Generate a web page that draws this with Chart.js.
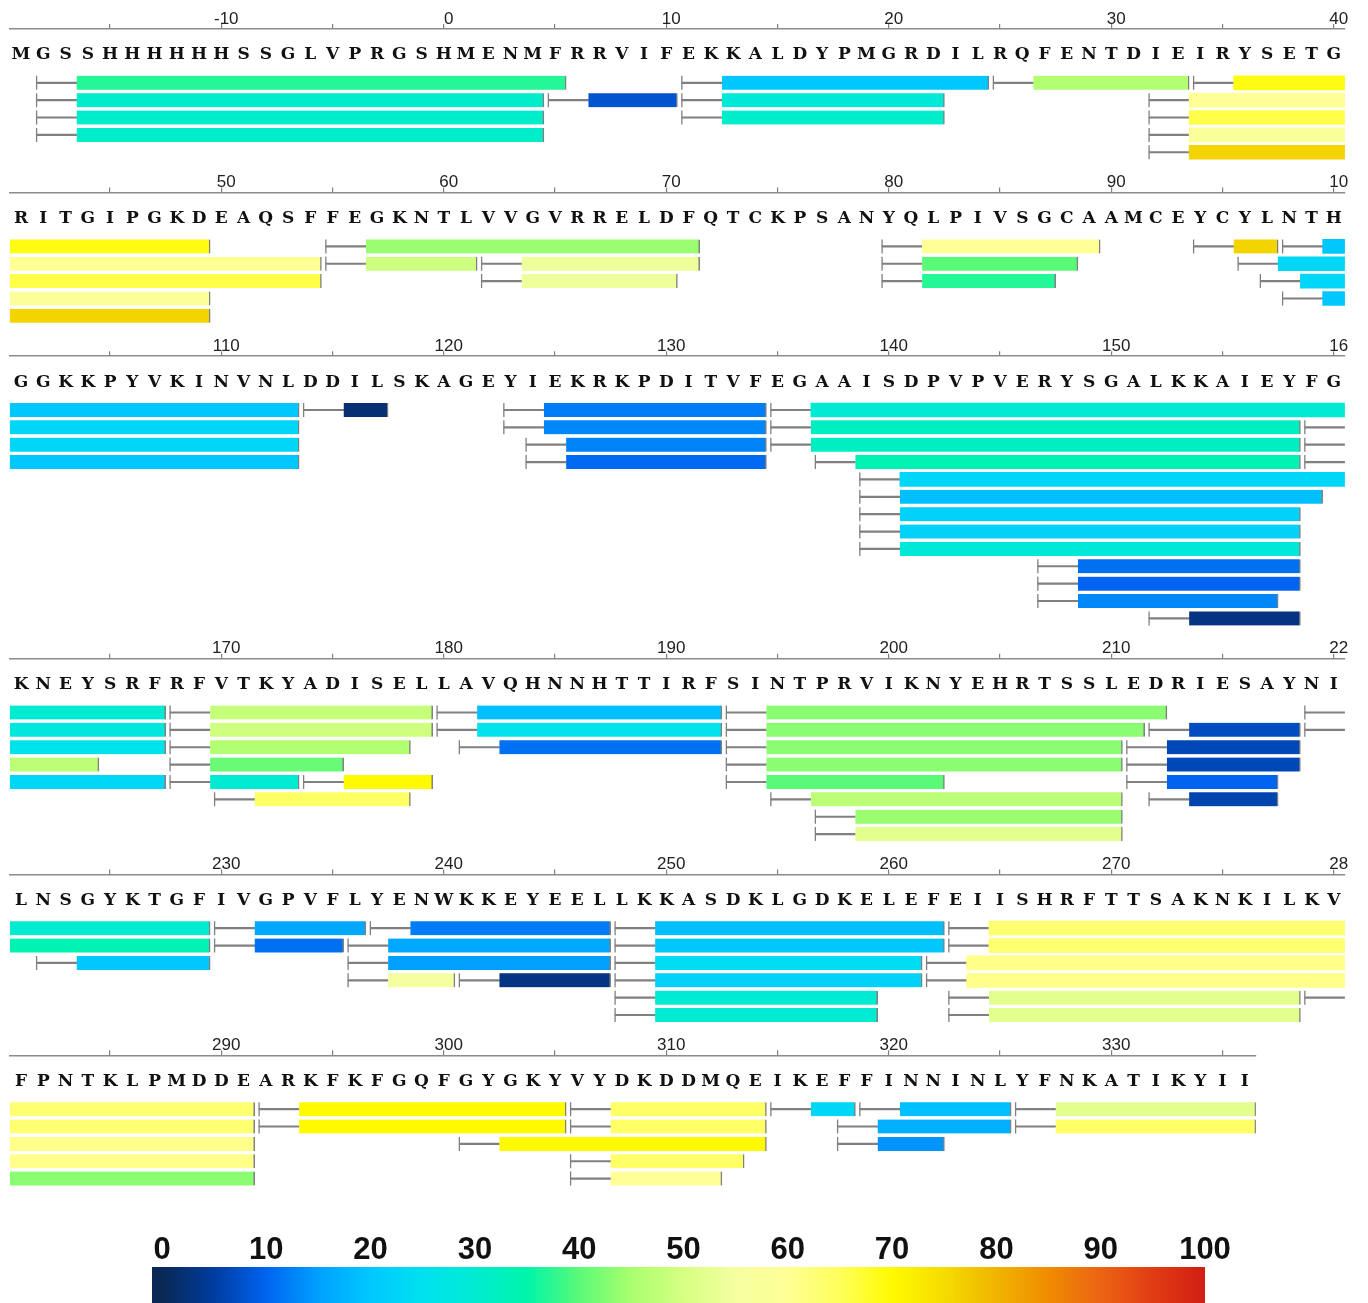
<!DOCTYPE html>
<html>
<head>
<meta charset="utf-8">
<title>Peptide coverage / deuterium uptake map</title>
<script src="https://cdn.jsdelivr.net/npm/chart.js@4.4.1/dist/chart.umd.min.js"></script>
<style>
    html, body { margin: 0; padding: 0; background: #fff; }
    #wrap { position: relative; width: 1368px; height: 1303px; overflow: hidden; }
    #wrap canvas { position: absolute; left: 0; }
</style>
</head>
<body>
<div id="wrap"></div>
<script>
// sequence, split into rows of 60 residues
const rowStarts = [-19, 41, 101, 161, 221, 281];
const rowLengths = [60, 60, 60, 60, 60, 56];
const rowLanes = [5, 5, 13, 8, 6, 5];
const sequence =
    "MGSSHHHHHHSSGLVPRGSHMENMFRRVIFEKKALDYPMGRDILRQFENTDIEIRYSETG" +
    "RITGIPGKDEAQSFFEGKNTLVVGVRRELDFQTCKPSANYQLPIVSGCAAMCEYCYLNTH" +
    "GGKKPYVKINVNLDDILSKAGEYIEKRKPDITVFEGAAISDPVPVERYSGALKKAIEYFG" +
    "KNEYSRFRFVTKYADISELLAVQHNNHTTIRFSINTPRVIKNYEHRTSSLEDRIESAYNI" +
    "LNSGYKTGFIVGPVFLYENWKKEYEELLKKASDKLGDKELEFEIISHRFTTSAKNKILKV" +
    "FPNTKLPMDDEARKFKFGQFGYGKYVYDKDDMQEIKEFFINNINLYFNKATIKYII";

// peptides: first / last residue, lane in the row, deuterium uptake (%)
const pepStart = [
    -18, -18, -18, -18, 5, 11, 11, 11, 25, 34, 32, 32, 32, 32,
    55, 55, 62, 62, 80, 80, 80, 94, 98, 96, 97, 98,
    114, 123, 123, 124, 124, 135, 135, 135, 137, 139, 139, 139, 139, 139, 147, 147, 147, 152,
    159, 159, 159, 168, 168, 168, 168, 168, 174, 170, 180, 180, 181, 193, 193, 193, 193, 193, 195, 197, 197, 212, 211, 211, 211, 212, 219, 219,
    222, 230, 230, 237, 236, 236, 236, 241, 248, 248, 248, 248, 248, 248, 263, 263, 262, 262, 263, 263, 279,
    292, 292, 306, 306, 301, 306, 306, 315, 319, 326, 318, 326, 318
];
const pepEnd = [
    5, 4, 4, 4, 10, 24, 22, 22, 33, 49, 54, 54, 49, 49,
    71, 61, 71, 70, 89, 88, 87, 97, 113, 113, 113, 113,
    117, 134, 134, 134, 134, 167, 158, 158, 158, 167, 159, 158, 158, 158, 158, 158, 157, 158,
    167, 167, 164, 179, 179, 178, 175, 173, 179, 178, 192, 192, 192, 212, 211, 210, 210, 202, 210, 210, 210, 218, 218, 218, 217, 217, 229, 229,
    229, 236, 235, 247, 247, 247, 240, 247, 262, 262, 261, 261, 259, 259, 291, 291, 291, 291, 278, 278, 291,
    305, 305, 314, 314, 314, 313, 312, 318, 325, 336, 325, 336, 322
];
const pepLane = [
    0, 1, 2, 3, 1, 0, 1, 2, 0, 0, 1, 2, 3, 4,
    0, 1, 1, 2, 0, 1, 2, 0, 0, 1, 2, 3,
    0, 0, 1, 2, 3, 0, 1, 2, 3, 4, 5, 6, 7, 8, 9, 10, 11, 12,
    1, 2, 3, 0, 1, 2, 3, 4, 4, 5, 0, 1, 2, 0, 1, 2, 3, 4, 5, 6, 7, 1, 2, 3, 4, 5, 0, 1,
    2, 0, 1, 0, 1, 2, 3, 3, 0, 1, 2, 3, 4, 5, 0, 1, 2, 3, 4, 5, 4,
    0, 1, 0, 1, 2, 3, 4, 0, 0, 0, 1, 1, 2
];
const pepUptake = [
    37, 31, 31, 31, 8, 20, 29, 31, 46, 69, 60, 66, 58, 76,
    44, 49, 54, 54, 60, 40, 37, 76, 20, 23, 23, 20,
    2, 12, 13, 12.5, 10.5, 30, 32, 32, 34, 23, 19, 22, 22, 29, 11, 10, 13, 3,
    28, 26, 47, 48, 49, 46, 41, 30, 70, 64, 19, 26, 11, 43, 43, 43, 43, 40, 47, 44, 52, 7, 6.5, 6.5, 10, 6, 30, 34,
    20, 16, 11, 12, 16, 15, 55, 3, 19, 20, 24, 22, 30, 30, 63, 63, 61, 61, 52, 52, 43,
    70, 70, 64, 64, 70, 64, 60, 23, 19, 52, 17, 64, 14
];

// colour scale
const scaleTicks = [0, 10, 20, 30, 40, 50, 60, 70, 80, 90, 100];
const scaleStops = [0, 5, 10, 15, 20, 25, 30, 35, 40, 45, 50, 55, 60, 65, 70, 75, 80, 85, 90, 95, 100];
const scaleColors = [
    "#0a2855", "#003ca0", "#0064f0", "#00a0ff", "#00c8ff", "#00e1f0", "#00ebd2",
    "#00f5aa", "#5afa78", "#aaff6e", "#d7ff82", "#f5ffa0", "#ffff96", "#ffff5a",
    "#fffa00", "#f5dc00", "#f0b400", "#f08c00", "#eb6414", "#e13c14", "#d21e14"
];

// layout (px)
const PAGE_W = 1368;
const LEFT = 9.9;
const PX_PER_RES = 22.25;
const PITCH = 17.37;
const AXIS_TOP = 29;
const SEQ_BAND = 36;
const FIRST_LANE = 53.8;
const ROW_GAP = 40.3;
const GREY = "#808080";

function hexRgb(h) {
    return [1, 3, 5].map(i => parseInt(h.substr(i, 2), 16));
}

function uptakeColor(u) {
    let i = 0;
    while (i < scaleStops.length - 2 && u > scaleStops[i + 1]) i++;
    const t = Math.max(0, Math.min(1, (u - scaleStops[i]) / (scaleStops[i + 1] - scaleStops[i])));
    const a = hexRgb(scaleColors[i]), b = hexRgb(scaleColors[i + 1]);
    const c = a.map((v, j) => Math.round(v + (b[j] - v) * t));
    return `rgb(${c[0]},${c[1]},${c[2]})`;
}

const wrap = document.getElementById("wrap");

function addCanvas(top, height) {
    const cv = document.createElement("canvas");
    cv.width = PAGE_W;
    cv.height = height;
    cv.style.top = top + "px";
    wrap.appendChild(cv);
    return cv;
}

let axisY = 29;
rowStarts.forEach((first, k) => {
    const n = rowLengths[k];
    const last = first + n - 1;
    const lanes = rowLanes[k];

    const top = Math.floor(axisY - AXIS_TOP);
    const labelBand = axisY - top;
    const yMin = -(FIRST_LANE - SEQ_BAND) / PITCH;
    const yMax = lanes - 1 + 0.6;
    const area = (yMax - yMin) * PITCH;
    const height = Math.ceil(labelBand + SEQ_BAND + area);
    const cv = addCanvas(top, height);

    // split each peptide into start mark, unlabelled N-term link and coloured part
    const bars = [], links = [], marks = [];
    pepStart.forEach((s, i) => {
        const e = pepEnd[i];
        if (e < first || s - 1 > last) return;
        if (s + 1 < last) {
            bars.push({ x: [s + 1.5, e + 0.5], y: pepLane[i], u: pepUptake[i], open: e > last });
        }
        links.push({ x: [s - 0.3, s + 1.5], y: pepLane[i] });
        marks.push({ x: s - 0.3, y: pepLane[i] });
    });

    new Chart(cv, {
        type: "bar",
        data: {
            datasets: [
                {
                    label: "uptake",
                    indexAxis: "y",
                    data: bars,
                    xAxisID: "x", yAxisID: "y",
                    backgroundColor: bars.map(b => uptakeColor(b.u)),
                    borderColor: GREY,
                    borderWidth: bars.map(b => ({ left: 0, top: 0, bottom: 0, right: b.open ? 0 : 1.5 })),
                    borderSkipped: false,
                    barThickness: 14,
                    grouped: false,
                    clip: 0
                },
                {
                    label: "n-term",
                    indexAxis: "y",
                    data: links,
                    xAxisID: "x", yAxisID: "y",
                    backgroundColor: GREY,
                    barThickness: 1.5,
                    grouped: false,
                    clip: 0
                },
                {
                    type: "scatter",
                    label: "start",
                    data: marks,
                    xAxisID: "x", yAxisID: "y",
                    pointStyle: "line",
                    pointRotation: 90,
                    pointRadius: 7,
                    pointBorderColor: GREY,
                    pointBorderWidth: 1.3,
                    clip: 0
                }
            ]
        },
        options: {
            responsive: false,
            animation: false,
            devicePixelRatio: 1,
            layout: {
                autoPadding: false,
                padding: { left: LEFT, right: PAGE_W - (LEFT + n * PX_PER_RES), top: 0, bottom: height - (labelBand + SEQ_BAND + area) }
            },
            plugins: { legend: { display: false }, tooltip: { enabled: false } },
            scales: {
                x: {
                    type: "linear",
                    position: "top",
                    weight: 1,
                    offset: false,
                    bounds: "data",
                    min: first - 0.5,
                    max: last + 0.5,
                    grid: { drawOnChartArea: false, offset: false, tickLength: 5, color: GREY, lineWidth: 1.2 },
                    border: { color: "#8c8c8c", width: 1.6 },
                    ticks: {
                        font: { family: "Liberation Sans", size: 17, lineHeight: 38 / 17 },
                        color: "#222",
                        padding: labelBand - 43,
                        labelOffset: 5,
                        maxRotation: 0,
                        autoSkip: false,
                        callback: (v) => {
                            if (v % 10 !== 0) return "";
                            const s = String(v);
                            return (v === last && s.length > 2) ? s.slice(0, 2) : s;
                        }
                    },
                    afterBuildTicks: (axis) => {
                        const t = [];
                        for (let v = Math.ceil(axis.min / 5) * 5; v <= axis.max; v += 5) t.push({ value: v });
                        axis.ticks = t;
                    },
                    afterFit: (axis) => { axis.height = labelBand; axis.paddingLeft = 0; axis.paddingRight = 0; }
                },
                seq: {
                    type: "category",
                    axis: "x",
                    position: "top",
                    weight: 0,
                    labels: sequence.slice(k * 60, k * 60 + n).split(""),
                    offset: true,
                    grid: { display: false, drawTicks: false, tickLength: 0 },
                    border: { display: false },
                    ticks: {
                        font: { family: "DejaVu Serif", size: 17, weight: "bold", lineHeight: 46 / 17 },
                        color: "#111",
                        padding: -13,
                        maxRotation: 0,
                        autoSkip: false
                    },
                    afterFit: (axis) => { axis.height = SEQ_BAND; axis.paddingLeft = 0; axis.paddingRight = 0; }
                },
                y: {
                    type: "linear",
                    display: false,
                    reverse: true,
                    offset: false,
                    bounds: "data",
                    min: yMin,
                    max: yMax,
                    afterBuildTicks: (axis) => { axis.min = yMin; axis.max = yMax; }
                }
            }
        }
    });

    axisY += FIRST_LANE + (lanes - 1) * PITCH + ROW_GAP;
});

// colour bar
const cbTop = 1220, cbBarTop = 1267, cbLeft = 152, cbZero = 162, cbRight = 1205;
const cbCanvas = addCanvas(cbTop, 1303 - cbTop);
const cbMin = -(cbZero - cbLeft) / ((cbRight - cbZero) / 100);

new Chart(cbCanvas, {
    type: "bar",
    data: {
        labels: ["uptake"],
        datasets: [{
            indexAxis: "y",
            data: [[cbMin, 100]],
            backgroundColor: (ctx) => {
                const chart = ctx.chart;
                const xs = chart.scales.x;
                if (!chart.chartArea || !xs) return scaleColors[0];
                const g = chart.ctx.createLinearGradient(xs.getPixelForValue(0), 0, xs.getPixelForValue(100), 0);
                scaleStops.forEach((v, i) => g.addColorStop(v / 100, scaleColors[i]));
                return g;
            },
            barPercentage: 1,
            categoryPercentage: 1
        }]
    },
    options: {
        responsive: false,
        animation: false,
        devicePixelRatio: 1,
        layout: { autoPadding: false, padding: { left: cbLeft, right: PAGE_W - cbRight, top: 0, bottom: 0 } },
        plugins: { legend: { display: false }, tooltip: { enabled: false } },
        scales: {
            x: {
                type: "linear",
                position: "top",
                offset: false,
                bounds: "data",
                min: cbMin,
                max: 100,
                grid: { display: false, drawTicks: false, tickLength: 0, offset: false },
                border: { display: false },
                ticks: {
                    font: { family: "Liberation Sans", size: 31, weight: "bold", lineHeight: 60 / 31 },
                    color: "#111",
                    padding: -13,
                    maxRotation: 0,
                    autoSkip: false
                },
                afterBuildTicks: (axis) => {
                    axis.min = cbMin; axis.max = 100;
                    axis.ticks = scaleTicks.map(v => ({ value: v }));
                },
                afterFit: (axis) => { axis.height = cbBarTop - cbTop; axis.paddingLeft = 0; axis.paddingRight = 0; }
            },
            y: { type: "category", display: false, offset: true }
        }
    }
});
</script>
</body>
</html>
